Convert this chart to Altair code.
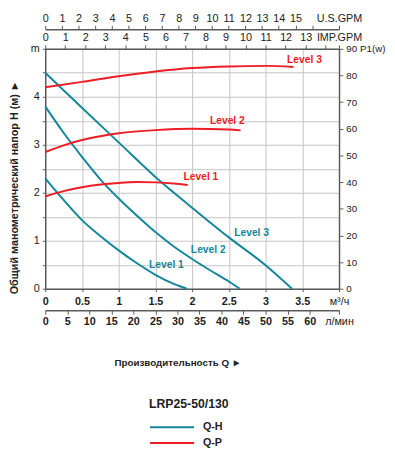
import altair as alt
import pandas as pd

# ---------------- data ----------------
levels = ["Level 1", "Level 2", "Level 3"]

# Q-H curves: flow (m3/h) -> head (m)
qh_q = [
    [0, 0.25, 0.5, 0.75, 1.0, 1.25, 1.5, 1.75, 1.93],
    [0, 0.25, 0.5, 0.75, 1.0, 1.25, 1.5, 1.75, 2.0, 2.25, 2.5, 2.65],
    [0, 0.5, 1.0, 1.5, 2.0, 2.5, 3.0, 3.36],
]
qh_h = [
    [2.3, 1.85, 1.43, 1.1, 0.8, 0.53, 0.29, 0.1, 0.0],
    [3.8, 3.25, 2.75, 2.28, 1.88, 1.52, 1.18, 0.88, 0.62, 0.38, 0.15, 0.0],
    [4.5, 3.77, 3.05, 2.33, 1.69, 1.07, 0.49, 0.0],
]

# Q-P curves: flow (m3/h) -> power P1 (W)
qp_q = [
    [0, 0.25, 0.5, 0.75, 1.0, 1.25, 1.5, 1.75, 1.94],
    [0, 0.25, 0.5, 0.75, 1.0, 1.5, 2.0, 2.5, 2.66],
    [0, 0.5, 1.0, 1.5, 2.0, 2.5, 3.0, 3.38],
]
qp_p = [
    [34.6, 36.6, 38.1, 39.1, 39.7, 40.0, 39.9, 39.5, 38.9],
    [51.3, 53.8, 55.8, 57.2, 58.3, 59.5, 60.0, 59.7, 59.4],
    [75.6, 77.6, 79.7, 81.5, 82.8, 83.4, 83.6, 83.2],
]

# curve labels (data coordinates)
qh_label_q = [1.65, 2.22, 2.81]
qh_label_h = [0.50, 0.80, 1.17]
qp_label_q = [2.12, 2.48, 3.53]
qp_label_p = [42.0, 62.9, 85.7]

# axis ticks
q_ticks = [0, 0.5, 1, 1.5, 2, 2.5, 3, 3.5, 4]
h_ticks = [0, 0.5, 1, 1.5, 2, 2.5, 3, 3.5, 4, 4.5, 5]
p_ticks = [0, 10, 20, 30, 40, 50, 60, 70, 80, 90]
Q_MAX = 4.0
USGPM_MAX = Q_MAX / 0.2271247
IMPGPM_MAX = Q_MAX / 0.2727654
LMIN_MAX = Q_MAX * 1000 / 60
us_ticks = list(range(0, 17)) + [USGPM_MAX]
imp_ticks = list(range(0, 15)) + [IMPGPM_MAX]
lmin_ticks = list(range(0, 61, 5)) + [LMIN_MAX]

# ---------------- tables ----------------
qh_rows, qp_rows = [], []
for lv, qs, hs in zip(levels, qh_q, qh_h):
    for q, h in zip(qs, hs):
        qh_rows.append({"level": lv, "Q": q, "H": h, "type": "Q-H"})
for lv, qs, ps in zip(levels, qp_q, qp_p):
    for q, p in zip(qs, ps):
        qp_rows.append({"level": lv, "Q": q, "P": p, "type": "Q-P"})
qh_df = pd.DataFrame(qh_rows)
qp_df = pd.DataFrame(qp_rows)
qh_lab = pd.DataFrame({"Q": qh_label_q, "H": qh_label_h, "t": levels})
qp_lab = pd.DataFrame({"Q": qp_label_q, "P": qp_label_p, "t": levels})

TEAL = "#13879b"
RED = "#ee1c25"
FONT = "Liberation Sans"
color_scale = alt.Scale(domain=["Q-H", "Q-P"], range=[TEAL, RED])
legend = alt.Legend(
    orient="none", legendX=106, legendY=357, title="LRP25-50/130",
    titleFontSize=12.5, titleFontWeight="bold", titlePadding=11,
    symbolType="stroke", symbolSize=2025, symbolStrokeWidth=2,
    clipHeight=12, rowPadding=4, labelFontSize=11, labelFontWeight="bold",
    labelOffset=8, padding=0,
)

qx = alt.Scale(domain=[0, Q_MAX], nice=False)
hy = alt.Scale(domain=[0, 5], nice=False)
py = alt.Scale(domain=[0, 90], nice=False)

qh_lines = alt.Chart(qh_df).mark_line(strokeWidth=2, interpolate="monotone").encode(
    x=alt.X("Q:Q", scale=qx, axis=alt.Axis(
        orient="bottom", values=q_ticks, grid=True, tickSize=3, labelPadding=4,
        labelFlush=False, labelOverlap=False, title=None,
        labelExpr="datum.value == 4 ? 'м³/ч' : format(datum.value, '~g')",
        labelFontWeight={"condition": {"test": "datum.value == 4", "value": "normal"}, "value": "bold"},
    )),
    y=alt.Y("H:Q", scale=hy, axis=alt.Axis(
        orient="left", values=h_ticks, grid=True, tickSize=3, labelPadding=3,
        labelFlush=False, labelOverlap=False,
        labelExpr="datum.value == 5 ? 'm' : (datum.value % 1 == 0 ? format(datum.value, 'd') : '')",
        title="Общий манометрический напор H (м)  ►",
        titleX=-31, titleY=141, titleAngle=270, titleAlign="center",
        titleBaseline="middle", titleFontSize=11, titleFontWeight="bold",
    )),
    color=alt.Color("type:N", scale=color_scale, legend=legend),
    detail="level:N",
)

qh_text = alt.Chart(qh_lab).mark_text(
    font=FONT, fontWeight="bold", fontSize=10.5, color=TEAL, align="center", baseline="middle"
).encode(
    x=alt.X("Q:Q", scale=qx, axis=None),
    y=alt.Y("H:Q", scale=hy, axis=None),
    text="t:N",
)

qp_lines = alt.Chart(qp_df).mark_line(strokeWidth=2, interpolate="monotone").encode(
    x=alt.X("Q:Q", scale=qx, axis=None),
    y=alt.Y("P:Q", scale=py, axis=alt.Axis(
        orient="right", values=p_ticks, grid=False, tickSize=4, labelPadding=3,
        labelFlush=False, labelOverlap=False, title=None, labelFontSize=10,
        labelExpr="datum.value == 90 ? '90 P1(w)' : datum.label",
    )),
    color=alt.Color("type:N", scale=color_scale, legend=legend),
    detail="level:N",
)

qp_text = alt.Chart(qp_lab).mark_text(
    font=FONT, fontWeight="bold", fontSize=10.5, color=RED, align="center", baseline="middle"
).encode(
    x=alt.X("Q:Q", scale=qx, axis=None),
    y=alt.Y("P:Q", scale=py, axis=None),
    text="t:N",
)

imp_axis = alt.Chart(pd.DataFrame({"v": imp_ticks})).mark_point(opacity=0).encode(
    x=alt.X("v:Q", scale=alt.Scale(domain=[0, IMPGPM_MAX], nice=False), axis=alt.Axis(
        orient="top", values=imp_ticks, grid=False, tickSize=4, labelPadding=2,
        labelFlush=False, labelOverlap=False, title=None,
        labelExpr="datum.value > 14.5 ? 'IMP.GPM' : (datum.value == 14 ? '' : format(datum.value, 'd'))",
    )),
)

us_axis = alt.Chart(pd.DataFrame({"v": us_ticks})).mark_point(opacity=0).encode(
    x=alt.X("v:Q", scale=alt.Scale(domain=[0, USGPM_MAX], nice=False), axis=alt.Axis(
        orient="top", offset=20, values=us_ticks, grid=False, tickSize=4, labelPadding=2,
        labelFlush=False, labelOverlap=False, title=None,
        labelExpr="datum.value > 17 ? 'U.S.GPM' : (datum.value == 16 ? '' : format(datum.value, 'd'))",
    )),
)

lmin_axis = alt.Chart(pd.DataFrame({"v": lmin_ticks})).mark_point(opacity=0).encode(
    x=alt.X("v:Q", scale=alt.Scale(domain=[0, LMIN_MAX], nice=False), axis=alt.Axis(
        orient="bottom", offset=22, values=lmin_ticks, grid=False, tickSize=4, labelPadding=2,
        labelFlush=False, labelOverlap=False,
        labelExpr="datum.value > 66 ? 'л/мин' : format(datum.value, 'd')",
        labelFontWeight={"condition": {"test": "datum.value > 66", "value": "normal"}, "value": "bold"},
        title="Производительность Q  ►", titleX=135, titleY=53, titleAlign="center",
        titleBaseline="middle", titleFontSize=10, titleFontWeight="bold",
    )),
)

chart = alt.layer(
    qh_lines, qh_text, qp_lines, qp_text, imp_axis, us_axis, lmin_axis
).resolve_scale(
    x="independent", y="independent"
).properties(
    width=300, height=245,
    padding={"left": 38, "top": 37, "right": 49, "bottom": 160},
    autosize=alt.AutoSizeParams(type="none"),
).configure_view(
    stroke=None
).configure_axis(
    domainColor="#5a5a5a", domainWidth=1.5, tickColor="#5a5a5a", tickWidth=1,
    gridColor="#c4c4c4", gridWidth=1, labelFont=FONT, labelFontSize=11,
    labelColor="#222222", titleFont=FONT, titleColor="#222222",
).configure_legend(
    labelFont=FONT, titleFont=FONT, labelColor="#222222", titleColor="#222222",
)

chart.save("out.html", embed_options={"renderer": "svg", "actions": False})
